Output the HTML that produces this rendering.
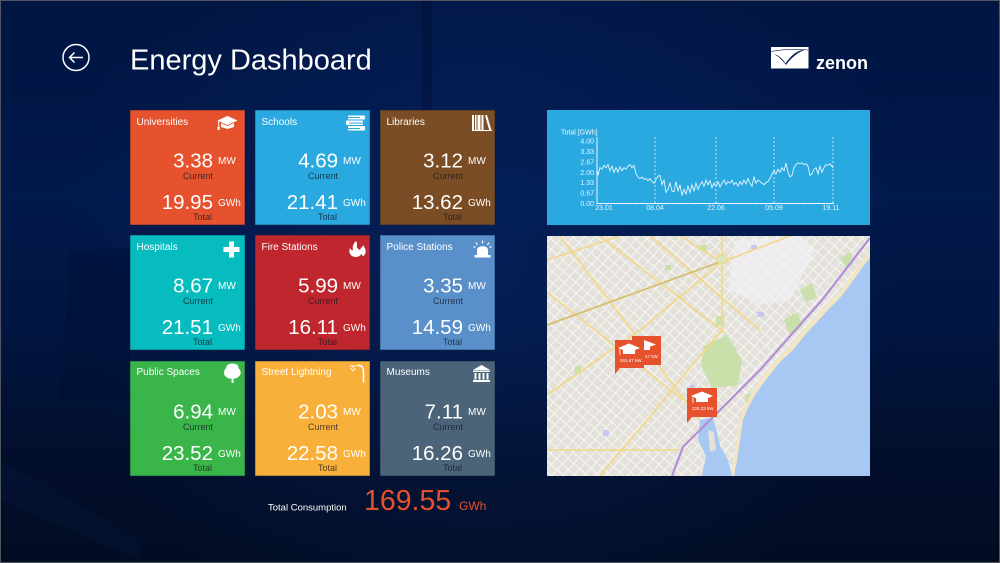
<!DOCTYPE html>
<html><head><meta charset="utf-8"><style>
html,body{margin:0;padding:0;background:#011540;}
body{width:1000px;height:563px;overflow:hidden;}
svg{display:block;font-family:"Liberation Sans",Arial,sans-serif;}
</style></head><body>
<svg width="1000" height="563" viewBox="0 0 1000 563" xmlns="http://www.w3.org/2000/svg">
<defs>
<linearGradient id="bg" x1="0" y1="0" x2="0" y2="1">
<stop offset="0" stop-color="#001542"/>
<stop offset="0.35" stop-color="#01194b"/>
<stop offset="0.6" stop-color="#011540"/>
<stop offset="0.8" stop-color="#020f2c"/>
<stop offset="1" stop-color="#020d24"/>
</linearGradient>
<radialGradient id="glow" cx="480" cy="250" r="420" gradientUnits="userSpaceOnUse">
<stop offset="0" stop-color="#0b2a6e" stop-opacity="0.4"/>
<stop offset="1" stop-color="#0b2a6e" stop-opacity="0"/>
</radialGradient>
<pattern id="streets" width="8" height="8" patternUnits="userSpaceOnUse" patternTransform="rotate(42)">
<rect width="8" height="8" fill="#e3e1da"/>
<path d="M0 0.5H8M0.5 0V8" stroke="#f6f6f3" stroke-width="1"/>
</pattern>
<clipPath id="mapclip"><rect x="547" y="236" width="323" height="240"/></clipPath>
</defs>

<rect width="1000" height="563" fill="url(#bg)"/>
<rect width="1000" height="563" fill="url(#glow)"/>
<!-- faint background shapes -->
<polygon points="70,250 130,248 130,400 60,400" fill="#000e30" opacity="0.35"/>
<polygon points="0,460 140,540 140,560 0,500" fill="#0a2250" opacity="0.18"/>
<polygon points="422,0 432,0 432,110 422,110" fill="#000e30" opacity="0.3"/>
<rect x="0.5" y="0.5" width="999" height="562" fill="none" stroke="#50555f" stroke-width="1"/>

<!-- back button -->
<circle cx="76" cy="57.5" r="13" fill="none" stroke="#fff" stroke-width="1.5"/>
<path d="M69.5 57.5H83M74.5 52.5L69.5 57.5L74.5 62.5" fill="none" stroke="#fff" stroke-width="1.5"/>

<text x="130" y="69.5" font-size="29" fill="#fff">Energy Dashboard</text>

<!-- zenon logo -->
<rect x="771" y="47" width="37.5" height="21.5" fill="#fff"/>
<path d="M774 54 C778 55 782 58 785.5 63.5 C792 54 798 50 806 49.5 C798 52 792 57 786 65 C782 60 778 56 774 54Z" fill="#0d1f55"/>
<path d="M771 51.5 Q790 48 808 50" fill="none" stroke="#0d1f55" stroke-width="0.6"/>
<text x="816" y="69" font-size="18" font-weight="bold" fill="#fff">zenon</text>

<!-- TILES -->
<g font-size="10">
<rect x="130" y="110" width="115" height="115" fill="#e5522d" stroke="#0a1a3a" stroke-opacity="0.5"/>
<rect x="255" y="110" width="115" height="115" fill="#29a9e0" stroke="#0a1a3a" stroke-opacity="0.5"/>
<rect x="380" y="110" width="115" height="115" fill="#7a4d25" stroke="#0a1a3a" stroke-opacity="0.5"/>
<rect x="130" y="235" width="115" height="115" fill="#07bcbf" stroke="#0a1a3a" stroke-opacity="0.5"/>
<rect x="255" y="235" width="115" height="115" fill="#c0262d" stroke="#0a1a3a" stroke-opacity="0.5"/>
<rect x="380" y="235" width="115" height="115" fill="#5990c9" stroke="#0a1a3a" stroke-opacity="0.5"/>
<rect x="130" y="361" width="115" height="115" fill="#39b54a" stroke="#0a1a3a" stroke-opacity="0.5"/>
<rect x="255" y="361" width="115" height="115" fill="#f9b03b" stroke="#0a1a3a" stroke-opacity="0.5"/>
<rect x="380" y="361" width="115" height="115" fill="#4b6479" stroke="#0a1a3a" stroke-opacity="0.5"/>
</g>

<g fill="#fff" font-size="10">
<text x="136.5" y="125">Universities</text>
<text x="261.5" y="125">Schools</text>
<text x="386.5" y="125">Libraries</text>
<text x="136.5" y="250">Hospitals</text>
<text x="261.5" y="250">Fire Stations</text>
<text x="386.5" y="250">Police Stations</text>
<text x="136.5" y="375">Public Spaces</text>
<text x="261.5" y="375">Street Lightning</text>
<text x="386.5" y="375">Museums</text>
</g>

<g fill="#fff" font-size="20.5" text-anchor="end">
<text x="213" y="167.7">3.38</text><text x="213" y="209">19.95</text>
<text x="338" y="167.7">4.69</text><text x="338" y="209">21.41</text>
<text x="463" y="167.7">3.12</text><text x="463" y="209">13.62</text>
<text x="213" y="292.7">8.67</text><text x="213" y="334">21.51</text>
<text x="338" y="292.7">5.99</text><text x="338" y="334">16.11</text>
<text x="463" y="292.7">3.35</text><text x="463" y="334">14.59</text>
<text x="213" y="418.7">6.94</text><text x="213" y="460">23.52</text>
<text x="338" y="418.7">2.03</text><text x="338" y="460">22.58</text>
<text x="463" y="418.7">7.11</text><text x="463" y="460">16.26</text>
</g>
<g fill="#fff" font-size="10">
<text x="218" y="164">MW</text><text x="218" y="206">GWh</text>
<text x="343" y="164">MW</text><text x="343" y="206">GWh</text>
<text x="468" y="164">MW</text><text x="468" y="206">GWh</text>
<text x="218" y="289">MW</text><text x="218" y="331">GWh</text>
<text x="343" y="289">MW</text><text x="343" y="331">GWh</text>
<text x="468" y="289">MW</text><text x="468" y="331">GWh</text>
<text x="218" y="415">MW</text><text x="218" y="457">GWh</text>
<text x="343" y="415">MW</text><text x="343" y="457">GWh</text>
<text x="468" y="415">MW</text><text x="468" y="457">GWh</text>
</g>
<g fill="#1a1a22" fill-opacity="0.78" font-size="9" text-anchor="end">
<text x="213" y="179">Current</text><text x="212" y="220">Total</text>
<text x="338" y="179">Current</text><text x="337" y="220">Total</text>
<text x="463" y="179">Current</text><text x="462" y="220">Total</text>
<text x="213" y="304">Current</text><text x="212" y="345">Total</text>
<text x="338" y="304">Current</text><text x="337" y="345">Total</text>
<text x="463" y="304">Current</text><text x="462" y="345">Total</text>
<text x="213" y="430">Current</text><text x="212" y="471">Total</text>
<text x="338" y="430">Current</text><text x="337" y="471">Total</text>
<text x="463" y="430">Current</text><text x="462" y="471">Total</text>
</g>

<!-- ICONS -->
<g fill="#fff">
<polygon points="221,122 234,122 234,127 227.5,129 221,127"/>
<polygon points="227.5,115.5 238.5,120.5 227.5,125.5 216.5,120.5" stroke="#e5522d" stroke-width="0.8"/>
<rect x="218.2" y="121" width="1" height="7"/>
<rect x="217.5" y="127" width="2.2" height="3"/>
<rect x="348" y="115.5" width="17" height="4" rx="1"/>
<rect x="346" y="120.5" width="17" height="4.5" rx="1"/>
<rect x="348" y="126" width="17" height="4.5" rx="1"/>
<rect x="346" y="117" width="14" height="1" fill="#29a9e0"/>
<rect x="349" y="122.5" width="14" height="1" fill="#29a9e0"/>
<rect x="346" y="128" width="14" height="1" fill="#29a9e0"/>
<rect x="472" y="115" width="2" height="16"/>
<rect x="475" y="115" width="1.5" height="16"/>
<rect x="477.5" y="115" width="3" height="16"/>
<rect x="481.5" y="115" width="2" height="16"/>
<polygon points="485,115.5 487,115 491.5,130.5 489.5,131"/>
<rect x="472" y="130" width="20" height="1"/>
<rect x="229" y="241.5" width="5" height="16"/>
<rect x="223.5" y="247" width="16" height="5"/>
<path d="M356 241 C359 245 354 247 360 250 C361 247 363 247 363 245 C366 249 367 253 363 256.5 L361.5 254 C360 256 358 257 356 257 C351 257 348 253 350 248 C351 250 352 251 353 250 C352 246 354 243 356 241Z"/>
<path d="M477 256 V250 C477 245 488 245 488 250 V256Z"/>
<rect x="474.5" y="255" width="16" height="2.5"/>
<path d="M482.5 240.5V243.5M476 242.5L477.5 245M489 242.5L487.5 245M473.5 247H475.5M489.5 247H491.5" stroke="#fff" stroke-width="1.2"/>
<path d="M232.5 363.5 C237 363.5 239 366 238.5 368.5 C241.5 370 241.5 375.5 238 377 C236 379 234 378.5 233.5 378.5 V383 H231.5 V378.5 C230 378.5 228 379 226.5 377 C223 375.5 223.5 370 226 368.5 C226 366 228 363.5 232.5 363.5Z"/>
<path d="M357 365.5 C362 365 363.5 368 363.5 371 V382.5" fill="none" stroke="#fff" stroke-width="1.6"/>
<path d="M350 366 H356 M353 366.5 V368 M350.5 368 L352 370 M355.5 368 L354 370 M353 369 V371.5" stroke="#fff" stroke-width="1"/>
<polygon points="481.5,365 490,370 473,370"/>
<rect x="473" y="370.5" width="17" height="1.5"/>
<rect x="474.5" y="373" width="2" height="6.5"/>
<rect x="478.5" y="373" width="2" height="6.5"/>
<rect x="482.5" y="373" width="2" height="6.5"/>
<rect x="486.5" y="373" width="2" height="6.5"/>
<rect x="473" y="380" width="17" height="2"/>
</g>

<text x="268" y="510.5" font-size="9.5" fill="#fff">Total Consumption</text>
<text x="364" y="510" font-size="28.5" fill="#e8502e">169.55</text>
<text x="459" y="510" font-size="12" fill="#e8502e">GWh</text>

<!-- CHART PANEL -->
<rect x="547" y="110" width="323" height="115" fill="#29a9e0"/>
<g fill="#e9f5fc" font-size="7">
<text x="561" y="134.5">Total [GWh]</text>
<g text-anchor="end">
<text x="594" y="143.5">4.00</text>
<text x="594" y="154">3.33</text>
<text x="594" y="164.5">2.67</text>
<text x="594" y="174.8">2.00</text>
<text x="594" y="185.2">1.33</text>
<text x="594" y="195.4">0.67</text>
<text x="594" y="205.8">0.00</text>
</g>
<g text-anchor="middle">
<text x="604" y="210">23.01</text>
<text x="655" y="210">08.04</text>
<text x="716" y="210">22.06</text>
<text x="774" y="210">05.09</text>
<text x="831" y="210">19.11</text>
</g>
</g>
<g stroke="#e9f5fc" fill="none">
<path d="M597 137V203.5H834" stroke-width="1"/>
<path d="M655 137V203M716 137V203M774 137V203M833 137V203" stroke-width="0.8" stroke-dasharray="2,2"/>
<path d="M606 203v1.5M616 203v1.5M626 203v1.5M636 203v1.5M646 203v1.5M665 203v1.5M675 203v1.5M685 203v1.5M695 203v1.5M705 203v1.5M726 203v1.5M736 203v1.5M746 203v1.5M756 203v1.5M765 203v1.5M784 203v1.5M794 203v1.5M804 203v1.5M814 203v1.5M824 203v1.5" stroke-width="0.7"/>
<polyline stroke-width="0.9" points="597,169.2 598,175.4 600,167.7 602,169.2 604,165.3 606,167.7 608,164.5 610,170.75 612,166.1 614,172.3 616,167.7 618,172.3 620,166.9 622,170.75 624,167.7 626,169.2 628,166.1 630,164.5 632,167.7 634,165.3 636,173.85 638,176.95 640,178.5 642,176.95 644,179.3 646,178.5 648,180.8 650,178.5 652,181.6 654,183.15 656,179.3 658,176.2 660,175.4 662,184.7 664,180.05 666,192.45 668,189.35 670,183.15 672,190.9 674,191.7 676,181.6 678,190.9 680,184.7 682,195.55 684,189.35 686,194 688,186.25 690,192.45 692,184.7 694,190.9 696,183.15 698,189.35 700,184.7 702,181.6 704,186.25 706,180.05 708,184.7 710,180.8 712,187.8 714,183.15 716,186.25 718,181.6 720,187 722,183.15 724,180.05 726,184.7 728,181.6 730,183.15 732,180.05 734,184.7 736,182.4 738,186.25 740,181.6 742,184.7 744,180.05 746,183.9 748,178.5 750,183.15 752,186.25 754,176.95 756,183.15 758,180.05 760,181.6 762,183.15 764,184.7 766,182.4 768,181.6 770,178.5 772,173.85 774,170.75 776,173.85 778,169.2 780,172.3 782,167.7 784,170.75 786,163 788,172.3 790,176.95 792,175.4 794,167.7 796,164.5 798,163 800,163.8 802,163 804,164.5 806,163.8 808,166.1 810,175.4 812,173.85 814,169.2 816,167.7 818,173.85 820,166.1 822,172.3 824,167.7 826,164.5 828,165.3 830,163.8 833,167.7"/>
</g>

<!-- MAP -->
<g clip-path="url(#mapclip)">
<rect x="547" y="236" width="323" height="240" fill="url(#streets)"/>
<polygon points="735,240 800,236 815,250 790,300 760,305 728,290" fill="#f1f0f3" opacity="0.7"/>
<g fill="#c9e0ab">
<polygon points="704,346 727,335 742,360 738,385 712,388 701,365"/>
<polygon points="784,320 797,312 803,326 790,336"/>
<polygon points="800,290 812,283 817,297 806,302"/>
<rect x="716" y="316" width="8" height="10"/>
<rect x="575" y="366" width="6" height="8"/>
<rect x="665" y="265" width="6" height="5"/>
<rect x="700" y="245" width="7" height="6"/>
<polygon points="745,395 755,392 756,405 746,408"/>
<polygon points="840,258 850,252 854,264 846,268"/>
</g>
<g fill="#c9c6f1">
<rect x="757" y="312" width="7" height="5"/>
<rect x="751" y="245" width="6" height="4"/>
<rect x="603" y="430" width="6" height="6"/>
<rect x="690" y="385" width="5" height="4"/>
</g>
<g fill="none" stroke="#f3d784" stroke-width="1.6">
<path d="M547 325 L720 262"/>
<path d="M547 450 L680 450"/>
<path d="M722 236 V330"/>
<path d="M600 236 L725 333"/>
<path d="M560 236 L700 420"/>
<path d="M547 292 L683 400"/>
<path d="M650 236 L760 330"/>
<path d="M547 395 L640 330 L722 262"/>
<path d="M600 476 L722 330"/>
<path d="M722 262 L790 236"/>
<path d="M680 236 L722 262"/>
<path d="M547 260 L620 236"/>
</g>
<path d="M547 325 L720 262" stroke="#d6bf72" stroke-width="1.8" fill="none"/>
<circle cx="722" cy="259" r="5" fill="#d8e6c0" stroke="#f3d784" stroke-width="1.5"/>
<polyline points="870,255 862,266 850,283 840,296 828,308 817,320 805,333 793,348 780,360 772,370 762,383 755,393 748,406 743,418 740,438 737,458 734,476" fill="none" stroke="#f2e5c3" stroke-width="6"/>
<polygon points="870,258 862,268 850,285 840,298 828,310 817,322 805,335 793,350 780,362 772,372 762,385 755,395 748,408 743,420 740,440 737,460 734,476 870,476" fill="#a7c8f2"/>
<polygon points="700,420 712,418 716,428 720,446 728,460 732,476 702,476 706,456 698,440" fill="#a7c8f2"/>
<polygon points="708,430 714,432 716,450 710,452" fill="#e3e1da"/>
<path d="M870 238 L822 300 L760 370 L683 447 L672 476" fill="none" stroke="#b48fd8" stroke-width="2.2"/>
<g>
<rect x="632" y="336" width="29" height="29" fill="#e5522d"/>
<polygon points="644,340 656,344.5 644,349 632,344.5" fill="#fff"/>
<rect x="638" y="346" width="12" height="4" fill="#fff"/>
<text x="645" y="358" font-size="4.5" fill="#fff">27 kW</text>
<rect x="615" y="340" width="29" height="28" fill="#e5522d"/>
<polygon points="615,368 620,368 615,374" fill="#e5522d"/>
<polygon points="629,343.5 640,348 629,352.5 618,348" fill="#fff"/>
<rect x="623" y="350" width="12" height="4" fill="#fff"/>
<rect x="619.5" y="349" width="0.8" height="6" fill="#fff"/>
<text x="620" y="362" font-size="4.5" fill="#fff">281.67 kW</text>
<rect x="687" y="388" width="30" height="29" fill="#e5522d"/>
<polygon points="687,417 692,417 687,423" fill="#e5522d"/>
<polygon points="702,391.5 713,396 702,400.5 691,396" fill="#fff"/>
<rect x="696" y="398" width="12" height="4" fill="#fff"/>
<rect x="692.5" y="397" width="0.8" height="6" fill="#fff"/>
<text x="692" y="410" font-size="4.5" fill="#fff">225.33 kW</text>
</g>
</g>
</svg>
</body></html>
